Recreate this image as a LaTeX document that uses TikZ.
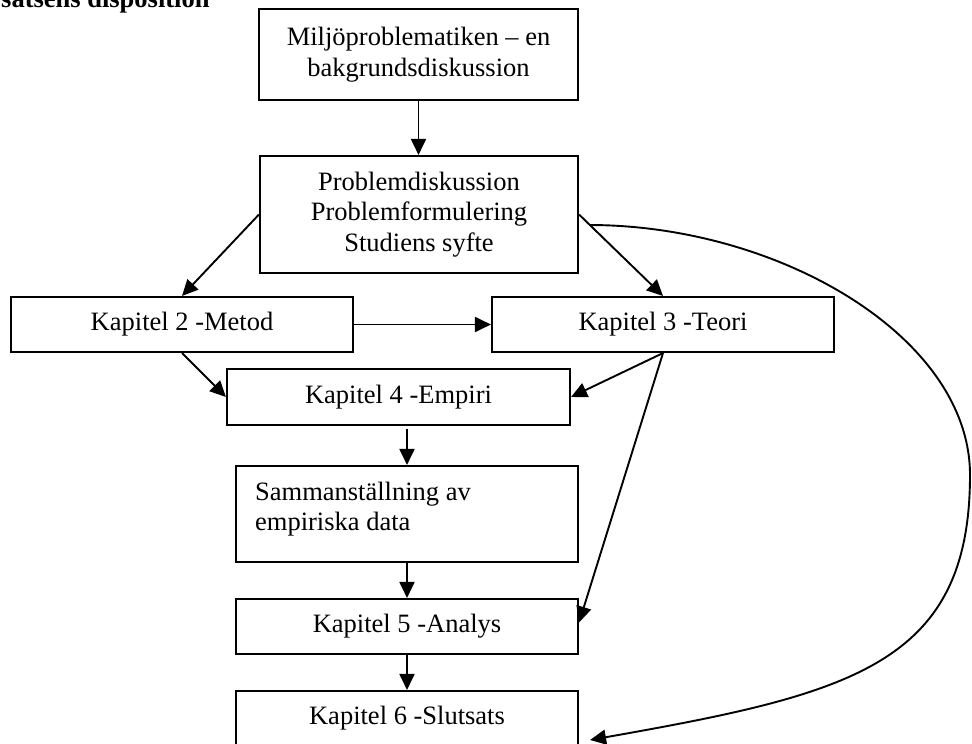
\documentclass[tikz,border=0pt]{standalone}
\usepackage{fontspec}
\setmainfont{Liberation Serif}
\usetikzlibrary{arrows.meta,calc}
\begin{document}
\begin{tikzpicture}[x=1pt,y=-1pt,
  font=\fontsize{26.5pt}{30.5pt}\selectfont,
  box/.style={draw, line width=2.1pt, inner sep=0pt, align=center},
  arr/.style={line width=1.9pt, -{Triangle[length=16pt,width=15pt]}}]
\useasboundingbox (0,0) rectangle (972,744);

% heading
\node[anchor=base west, inner sep=0pt, font=\fontsize{26.5pt}{30.5pt}\selectfont\bfseries] (title) at (1,7) {satsens disposition};

% chapter boxes
\node[box, minimum width=319pt, minimum height=91pt] (milj) at (418.5,54.5) {Miljöproblematiken – en\\bakgrundsdiskussion};
\node[box, minimum width=318pt, minimum height=117pt] (prob) at (419,214.5) {Problemdiskussion\\Problemformulering\\Studiens syfte};
\node[box, minimum width=342pt, minimum height=55pt] (metod) at (182,324.5) {Kapitel 2 -Metod};
\node[box, minimum width=342pt, minimum height=55pt] (teori) at (663,324.5) {Kapitel 3 -Teori};
\node[box, minimum width=343pt, minimum height=56pt] (empiri) at (398.5,397) {Kapitel 4 -Empiri};
\node[box, minimum width=342pt, minimum height=96pt] (samm) at (407,514) {};
\node[anchor=west, align=left, inner sep=0pt] (sammtext) at ($(samm.west)+(20,-4.7)$) {Sammanställning av\\empiriska data};
\node[box, minimum width=342pt, minimum height=55pt] (analys) at (407,626.5) {Kapitel 5 -Analys};
\node[box, minimum width=342pt, minimum height=55pt] (slut) at (407,718.5) {Kapitel 6 -Slutsats};

% connectors
\draw[arr] (milj.south) -- (milj.south |- prob.north);
\draw[arr] (prob.west) -- (metod.north);
\draw[arr] (prob.east) -- (teori.north);
\draw[arr] (metod.east) -- (teori.west);
\draw[arr] (metod.south) -- (empiri.west);
\draw[arr] (teori.south) -- (empiri.east);
\draw[arr] (teori.south) -- ($(analys.east)+(0,-4)$);
\draw[arr, shorten <=3pt] (empiri.south -| samm.north) -- (samm.north);
\draw[arr] (samm.south) -- (analys.north);
\draw[arr] (analys.south) -- (slut.north);

% long return arc from the problem box to the conclusion
\coordinate (bulge) at (970,475);
\draw[arr] ($(prob.east)+(10,10.5)$) .. controls +(190,0) and +(0,-138) .. (bulge)
  .. controls +(0,190) and +(260,-46) .. ($(slut.east)+(11,21.5)$);
\end{tikzpicture}
\end{document}
